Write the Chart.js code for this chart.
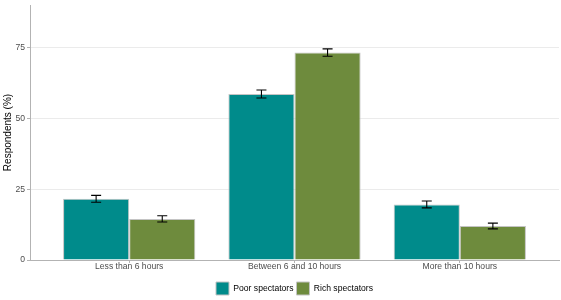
<!DOCTYPE html>
<html>
<head>
<meta charset="utf-8">
<script src="https://cdn.jsdelivr.net/npm/chart.js@4"></script>
<style>
  html, body { margin: 0; padding: 0; background: #fff; }
  #wrap { width: 561px; height: 300px; }
</style>
</head>
<body>
<div id="wrap"><canvas id="chart" width="561" height="300"></canvas></div>
<script>
(function () {
    'use strict';

    // ====== Data ======
    const categories = ['Less than 6 hours', 'Between 6 and 10 hours', 'More than 10 hours'];
    const seriesNames = ['Poor spectators', 'Rich spectators'];
    const poorValues = [21.6, 58.6, 19.6];
    const poorErrors = [1.2, 1.4, 1.2];
    const richValues = [14.5, 73.2, 12.0];
    const richErrors = [1.1, 1.3, 1.0];
    const yTickLabels = ['0', '25', '50', '75'];

    const colors = ['#008b8b', '#6e8b3d'];
    const FONT = '"Liberation Sans", Arial, sans-serif';

    const toPoints = vals => vals.map((v, i) => ({ x: i, y: v }));

    // ====== Error bars ======
    const errorBars = {
        id: 'errorBars',
        afterDatasetsDraw(chart) {
            const ctx = chart.ctx;
            const y = chart.scales.y;
            const errs = [poorErrors, richErrors];
            ctx.save();
            ctx.strokeStyle = '#000';
            ctx.lineWidth = 1.1;
            chart.data.datasets.forEach((ds, di) => {
                const meta = chart.getDatasetMeta(di);
                meta.data.forEach((bar, i) => {
                    const v = ds.data[i].y, e = errs[di][i];
                    const top = y.getPixelForValue(v + e);
                    const bot = y.getPixelForValue(v - e);
                    const half = 5;
                    ctx.beginPath();
                    ctx.moveTo(bar.x, top); ctx.lineTo(bar.x, bot);
                    ctx.moveTo(bar.x - half, top); ctx.lineTo(bar.x + half, top);
                    ctx.moveTo(bar.x - half, bot); ctx.lineTo(bar.x + half, bot);
                    ctx.stroke();
                });
            });
            ctx.restore();
        }
    };

    // legend is centred on the panel, not on the whole canvas
    const legendShift = {
        id: 'legendShift',
        afterLayout(chart) {
            const l = chart.legend;
            if (l) l.left += (chart.chartArea.left + chart.chartArea.right) - (l.left + l.right);
        }
    };

    new Chart(document.getElementById('chart'), {
        type: 'bar',
        data: {
            datasets: [
                { label: seriesNames[0], data: toPoints(poorValues), backgroundColor: colors[0], borderColor: '#c4c4c4', borderWidth: 1 },
                { label: seriesNames[1], data: toPoints(richValues), backgroundColor: colors[1], borderColor: '#c4c4c4', borderWidth: 1 }
            ]
        },
        options: {
            responsive: false,
            animation: false,
            categoryPercentage: 0.8,
            barPercentage: 1.0,
            layout: { padding: { top: 5, right: 2, left: 0, bottom: -5 } },
            scales: {
                x: {
                    type: 'linear',
                    offset: false,
                    min: -0.6,
                    max: 2.6,
                    afterBuildTicks: s => { s.ticks = categories.map((_, i) => ({ value: i })); },
                    afterFit: s => { s.height = 19; s.paddingLeft = 0; s.paddingRight = 0; },
                    grid: { display: true, offset: false, drawOnChartArea: false, tickLength: 3, tickColor: '#b3b3b3' },
                    border: { display: true, color: '#b3b3b3', width: 1 },
                    ticks: {
                        autoSkip: false, maxRotation: 0, padding: -2,
                        color: '#4d4d4d', font: { family: FONT, size: 8.6 },
                        callback: v => categories[v] ?? null
                    }
                },
                y: {
                    min: 0,
                    max: 90,
                    afterBuildTicks: s => { s.ticks = s.ticks.filter(t => t.value % 12.5 === 0 && t.value <= 87.5); },
                    afterFit: s => { s.width = 30; s.paddingTop = 0; s.paddingBottom = 0; },
                    grid: {
                        color: '#ebebeb',
                        lineWidth: c => (c.tick && c.tick.value % 25 === 0) ? 1 : 0.8,
                        tickLength: 3,
                        tickColor: c => (c.tick && c.tick.value % 25 === 0) ? '#b3b3b3' : 'rgba(0,0,0,0)'
                    },
                    border: { display: true, color: '#b3b3b3', width: 1 },
                    ticks: {
                        stepSize: 12.5, padding: 2,
                        color: '#4d4d4d', font: { family: FONT, size: 8.6 },
                        callback: v => (v % 25 === 0 ? yTickLabels[v / 25] : null)
                    },
                    title: {
                        display: true, text: 'Respondents (%)',
                        color: '#000', font: { family: FONT, size: 10 }, padding: { top: 2, bottom: 0 }
                    }
                }
            },
            plugins: {
                legend: {
                    position: 'bottom',
                    labels: {
                        boxWidth: 13, boxHeight: 13, padding: 3,
                        color: '#000', font: { family: FONT, size: 8.6 }
                    }
                },
                tooltip: { enabled: false }
            }
        },
        plugins: [errorBars, legendShift]
    });
})();
</script>
</body>
</html>
